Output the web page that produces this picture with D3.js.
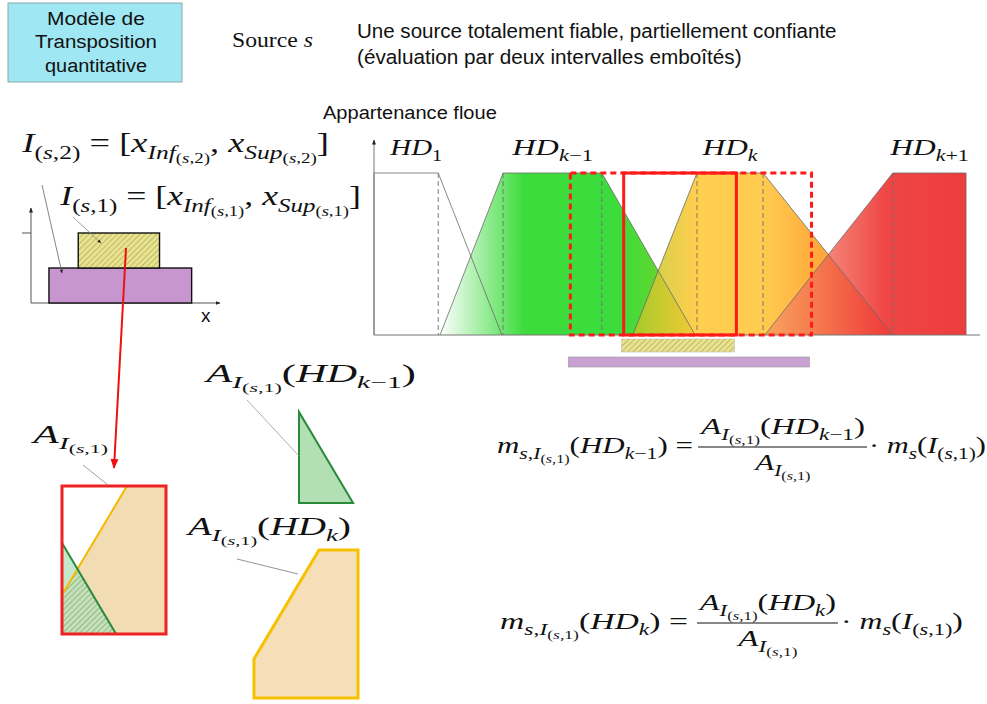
<!DOCTYPE html>
<html>
<head>
<meta charset="utf-8">
<script src="https://cdn.jsdelivr.net/npm/d3@7"></script>
<style>
body { margin: 0; background: #fff; }
text { white-space: pre; }
</style>
</head>
<body>
<script>
// fuzzy classes (support start, core start, core end, support end) on a 0-100 scale
var classNames = ["HD_{1}", "HD_{k−1}", "HD_{k}", "HD_{k+1}"];
var supStart  = [0, 10.9, 42.7, 64.5];
var coreStart = [0, 21.3, 53.3, 85.6];
var coreEnd   = [10.6, 37.6, 64.2, 97.7];
var supEnd    = [21.1, 53.0, 85.6, 97.7];
var membership = [0, 1];

// nested intervals given by the source
var interval1 = [41.2, 59.8];
var interval2 = [32.4, 72.2];

// small sketch of the two intervals
var small1 = [2.5, 6.8];
var small2 = [0.95, 8.5];

// zoomed areas, unit square of interval I(s,1)
var areaAll = [[0, 0], [0, 1], [1, 1], [1, 0]];
var areaKm1 = [[0, 0], [0, 0.615], [0.52, 0]];
var areaK   = [[0, 0], [0, 0.264], [0.625, 1], [1, 1], [1, 0]];

var W = 987, H = 704;
var svg = d3.select("body").append("svg").attr("width", W).attr("height", H);
var defs = svg.append("defs");
var serif = "'Liberation Serif', 'DejaVu Serif', serif";
var sans = "'Liberation Sans', Arial, sans-serif";

// arrow markers
function marker(id, color, size) {
  defs.append("marker").attr("id", id)
    .attr("viewBox", "0 0 10 10").attr("refX", 9).attr("refY", 5)
    .attr("markerWidth", size).attr("markerHeight", size)
    .attr("orient", "auto-start-reverse")
    .append("path").attr("d", "M0,1 L10,5 L0,9 Z").attr("fill", color);
}
marker("arrBlack", "#222", 5);
marker("arrRed", "#ee1111", 5);

// hatch patterns
var hp = defs.append("pattern").attr("id", "hatchY").attr("patternUnits", "userSpaceOnUse")
  .attr("width", 4).attr("height", 4).attr("patternTransform", "rotate(45)");
hp.append("rect").attr("width", 4).attr("height", 4).attr("fill", "#e9e38c");
hp.append("line").attr("x1", 0).attr("y1", 0).attr("x2", 0).attr("y2", 4).attr("stroke", "#8a8450").attr("stroke-width", 0.9);
var hg = defs.append("pattern").attr("id", "hatchG").attr("patternUnits", "userSpaceOnUse")
  .attr("width", 4).attr("height", 4).attr("patternTransform", "rotate(45)");
hg.append("line").attr("x1", 0).attr("y1", 0).attr("x2", 0).attr("y2", 4).attr("stroke", "#6f8f3a").attr("stroke-width", 1);

// stretch a text horizontally so it spans the wanted width
function fit(t, target) {
  var bb = t.node().getBBox();
  var anchor = t.attr("text-anchor");
  var ax = anchor === "middle" ? bb.x + bb.width / 2 : bb.x;
  var k = target / bb.width;
  t.attr("transform", "translate(" + ax + ",0) scale(" + k + ",1) translate(" + (-ax) + ",0)");
  return t;
}

// tiny TeX-like renderer: _{...} for subscripts
function parseTex(s) {
  var runs = [], lvl = 0;
  for (var i = 0; i < s.length; i++) {
    var c = s[i];
    if (c === "_" && s[i + 1] === "{") { lvl++; i++; continue; }
    if (c === "}") { lvl--; continue; }
    var it = /[A-Za-z]/.test(c);
    var last = runs[runs.length - 1];
    if (last && last.lvl === lvl && last.it === it) last.t += c;
    else runs.push({ t: c, lvl: lvl, it: it });
  }
  return runs;
}
function mathText(g, tex, px, py, size, width, anchor) {
  var t = g.append("text").attr("x", px).attr("y", py)
    .attr("font-family", serif).attr("font-size", size)
    .attr("text-anchor", anchor || "start").attr("fill", "#111");
  var sizes = [1, 0.7, 0.52], offs = [0, 0.25, 0.42];
  var cur = 0;
  parseTex(tex).forEach(function(r) {
    var off = offs[Math.min(r.lvl, 2)] * size;
    t.append("tspan").attr("dy", off - cur)
      .attr("font-size", size * sizes[Math.min(r.lvl, 2)])
      .attr("font-style", r.it ? "italic" : "normal")
      .text(r.t);
    cur = off;
  });
  if (width) fit(t, width);
  return t;
}
function plainText(g, s, px, py, size, width, anchor) {
  var t = g.append("text").attr("x", px).attr("y", py).attr("font-family", sans)
    .attr("font-size", size).attr("fill", "#111").attr("text-anchor", anchor || "start").text(s);
  if (width) fit(t, width);
  return t;
}

// ---------- title box ----------
svg.append("rect").attr("x", 8).attr("y", 3).attr("width", 174).attr("height", 79)
  .attr("fill", "#9fe7f3").attr("stroke", "#8aa").attr("stroke-width", 1);
var boxLines = ["Modèle de", "Transposition", "quantitative"];
var boxWidths = [98, 122, 102];
boxLines.forEach(function(s, i) {
  plainText(svg, s, 96, 25 + i * 23.5, 19, boxWidths[i], "middle");
});
var src = svg.append("text").attr("x", 232).attr("y", 47).attr("font-family", serif).attr("font-size", 21).attr("fill", "#111");
src.append("tspan").text("Source ");
src.append("tspan").attr("font-style", "italic").text("s");
fit(src, 81);

plainText(svg, "Une source totalement fiable, partiellement confiante", 357, 38, 19.5, 480);
plainText(svg, "(évaluation par deux intervalles emboîtés)", 357, 64, 19.5, 385);
plainText(svg, "Appartenance floue", 323, 119, 19, 174);

// ---------- main fuzzy chart ----------
var x = d3.scaleLinear().domain([0, 100]).range([374, 980]);
var y = d3.scaleLinear().domain(membership).range([335, 173]);
var line = d3.line().x(function(d) { return x(d[0]); }).y(function(d) { return y(d[1]); });

function trap(i) {
  return [[supStart[i], 0], [coreStart[i], 1], [coreEnd[i], 1], [supEnd[i], 0]];
}

// [offset, colour, opacity]
var gradStops = [
  [[0, "#ffffff", 1], [1, "#ffffff", 1]],
  [[0, "#ffffff", 1], [0.33, "#3ddc3d", 1], [0.72, "#3ddc3d", 1], [1, "#8ccf1c", 1]],
  [[0, "#b4c828", 0.85], [0.24, "#ffc93a", 0.9], [0.5, "#ffc63c", 0.9], [0.75, "#ff9a22", 0.9], [1, "#ff4a14", 0.9]],
  [[0, "#f58a66", 0.6], [0.6, "#ee3c3c", 0.95], [1, "#ee3c3c", 1]]
];
gradStops.forEach(function(stops, i) {
  var lg = defs.append("linearGradient").attr("id", "grad" + i)
    .attr("gradientUnits", "userSpaceOnUse")
    .attr("x1", x(supStart[i])).attr("x2", x(supEnd[i])).attr("y1", 0).attr("y2", 0);
  stops.forEach(function(s) {
    lg.append("stop").attr("offset", s[0]).attr("stop-color", s[1]).attr("stop-opacity", s[2]);
  });
});

var main = svg.append("g");
main.selectAll("path.fill").data(classNames).enter().append("path")
  .attr("class", "fill")
  .attr("d", function(d, i) { return line(trap(i)) + "Z"; })
  .attr("fill", function(d, i) { return "url(#grad" + i + ")"; });

main.selectAll("path.edge").data(classNames).enter().append("path")
  .attr("class", "edge")
  .attr("d", function(d, i) { return line(trap(i)); })
  .attr("fill", "none").attr("stroke", "#6a6a6a").attr("stroke-width", 0.8);

// dashed core limits
var coreLimits = [];
classNames.forEach(function(d, i) {
  if (coreStart[i] > supStart[i]) coreLimits.push(coreStart[i]);
  if (supEnd[i] > coreEnd[i]) coreLimits.push(coreEnd[i]);
});
main.selectAll("line.core").data(coreLimits).enter().append("line")
  .attr("x1", function(d) { return x(d); }).attr("x2", function(d) { return x(d); })
  .attr("y1", y(1)).attr("y2", y(0))
  .attr("stroke", "#6f6f6f").attr("stroke-width", 0.9).attr("stroke-dasharray", "5,3");

// axes
main.append("line").attr("x1", x(0)).attr("x2", x(100)).attr("y1", y(0)).attr("y2", y(0))
  .attr("stroke", "#777").attr("stroke-width", 1);
main.append("line").attr("x1", x(0)).attr("x2", x(0)).attr("y1", y(0)).attr("y2", y(1) - 33)
  .attr("stroke", "#777").attr("stroke-width", 1).attr("marker-end", "url(#arrBlack)");

// class labels
var labelWidths = [53, 82, 57, 80];
classNames.forEach(function(d, i) {
  mathText(main, d, x((coreStart[i] + coreEnd[i]) / 2) + (i === 0 ? 10 : 0), y(1) - 18, 24, labelWidths[i], "middle");
});

// interval boxes
main.append("rect").attr("x", x(interval2[0])).attr("y", y(1))
  .attr("width", x(interval2[1]) - x(interval2[0])).attr("height", y(0) - y(1))
  .attr("fill", "none").attr("stroke", "#ff1a1a").attr("stroke-width", 3).attr("stroke-dasharray", "6,4");
main.append("rect").attr("x", x(interval1[0])).attr("y", y(1))
  .attr("width", x(interval1[1]) - x(interval1[0])).attr("height", y(0) - y(1))
  .attr("fill", "none").attr("stroke", "#ff1a1a").attr("stroke-width", 3);

main.append("rect").attr("x", x(interval1[0]) - 2).attr("y", y(0) + 4)
  .attr("width", x(interval1[1]) - x(interval1[0])).attr("height", 13)
  .attr("fill", "url(#hatchY)").attr("stroke", "#bbb").attr("stroke-width", 0.6);
main.append("rect").attr("x", x(interval2[0]) - 2).attr("y", y(0) + 22)
  .attr("width", x(interval2[1]) - x(interval2[0])).attr("height", 10)
  .attr("fill", "#c9a0d2").attr("stroke", "#999").attr("stroke-width", 0.6);

// ---------- small interval sketch ----------
var sx = d3.scaleLinear().domain([0, 10]).range([31, 220]);
var sy = d3.scaleLinear().domain([0, 2]).range([303, 233]);
var sk = svg.append("g");
sk.append("line").attr("x1", sx(0)).attr("x2", sx(10)).attr("y1", sy(0)).attr("y2", sy(0))
  .attr("stroke", "#555").attr("stroke-width", 1).attr("marker-end", "url(#arrBlack)");
sk.append("line").attr("x1", sx(0)).attr("x2", sx(0)).attr("y1", sy(0)).attr("y2", sy(2) - 25)
  .attr("stroke", "#555").attr("stroke-width", 1).attr("marker-end", "url(#arrBlack)");
sk.append("line").attr("x1", sx(0) - 9).attr("x2", sx(0)).attr("y1", sy(2)).attr("y2", sy(2))
  .attr("stroke", "#555").attr("stroke-width", 1);
plainText(sk, "x", 201, 322, 19);
sk.append("rect").attr("x", sx(small2[0])).attr("y", sy(1)).attr("width", sx(small2[1]) - sx(small2[0]))
  .attr("height", sy(0) - sy(1)).attr("fill", "#c896cf").attr("stroke", "#111").attr("stroke-width", 1.4);
sk.append("rect").attr("x", sx(small1[0])).attr("y", sy(2)).attr("width", sx(small1[1]) - sx(small1[0]))
  .attr("height", sy(1) - sy(2)).attr("fill", "url(#hatchY)").attr("stroke", "#111").attr("stroke-width", 1.4);
sk.append("line").attr("x1", 42).attr("y1", 185).attr("x2", 62).attr("y2", 273)
  .attr("stroke", "#666").attr("stroke-width", 0.8).attr("marker-end", "url(#arrBlack)");
sk.append("line").attr("x1", 73).attr("y1", 217).attr("x2", 101).attr("y2", 243)
  .attr("stroke", "#888").attr("stroke-width", 0.8).attr("marker-end", "url(#arrBlack)");

mathText(svg, "I_{(s,2)} = [x_{Inf_{(s,2)}}, x_{Sup_{(s,2)}}]", 22, 152, 27, 308);
mathText(svg, "I_{(s,1)} = [x_{Inf_{(s,1)}}, x_{Sup_{(s,1)}}]", 60, 205, 27, 302);

// red arrow to the zoomed interval
svg.append("line").attr("x1", 126).attr("y1", 248).attr("x2", 114).attr("y2", 468)
  .attr("stroke", "#ee1111").attr("stroke-width", 2).attr("marker-end", "url(#arrRed)");

// ---------- zoomed areas ----------
var zx = d3.scaleLinear().domain([0, 1]).range([0, 104]);
var zy = d3.scaleLinear().domain([0, 1]).range([148, 0]);
var zline = d3.line().x(function(d) { return zx(d[0]); }).y(function(d) { return zy(d[1]); });

defs.append("clipPath").attr("id", "clipK").append("path").attr("d", zline(areaK) + "Z");

var z1 = svg.append("g").attr("transform", "translate(62,486)");
z1.append("path").attr("d", zline(areaAll) + "Z").attr("fill", "#fff");
z1.append("path").attr("d", zline(areaK) + "Z").attr("fill", "#f2dcb3");
z1.append("path").attr("d", zline(areaKm1) + "Z").attr("fill", "#b6e2c0").attr("fill-opacity", 0.8);
z1.append("path").attr("d", zline(areaKm1) + "Z").attr("fill", "url(#hatchG)").attr("clip-path", "url(#clipK)");
z1.append("path").attr("d", zline([areaK[1], areaK[2]])).attr("stroke", "#f5b800").attr("stroke-width", 2).attr("fill", "none");
z1.append("path").attr("d", zline([areaKm1[1], areaKm1[2]])).attr("stroke", "#2a8a3a").attr("stroke-width", 2).attr("fill", "none");
z1.append("path").attr("d", zline(areaAll) + "Z").attr("fill", "none").attr("stroke", "#ee2222").attr("stroke-width", 3);

var z2 = svg.append("g").attr("transform", "translate(299,355)");
z2.append("path").attr("d", zline(areaKm1) + "Z").attr("fill", "#b2dfb4").attr("stroke", "#2a8a3a").attr("stroke-width", 2);

var z3 = svg.append("g").attr("transform", "translate(254,550)");
z3.append("path").attr("d", zline(areaK) + "Z").attr("fill", "#f4dfb8").attr("stroke", "#f7c000").attr("stroke-width", 3);

// labels with leader lines
mathText(svg, "A_{I_{(s,1)}}", 32, 443, 25, 78);
svg.append("line").attr("x1", 83).attr("y1", 465).attr("x2", 108).attr("y2", 485).attr("stroke", "#888").attr("stroke-width", 0.8);
mathText(svg, "A_{I_{(s,1)}}(HD_{k−1})", 205, 382, 25, 213);
svg.append("line").attr("x1", 247).attr("y1", 400).attr("x2", 299).attr("y2", 456).attr("stroke", "#999").attr("stroke-width", 0.8);
mathText(svg, "A_{I_{(s,1)}}(HD_{k})", 187, 535, 25, 166);
svg.append("line").attr("x1", 237).attr("y1", 559).attr("x2", 298).attr("y2", 574).attr("stroke", "#777").attr("stroke-width", 0.8);

// ---------- formulas ----------
function formula(parts, widths, lx, base, bx1, bx2, rx) {
  mathText(svg, parts[0], lx, base, 23, widths[0]);
  mathText(svg, parts[1], (bx1 + bx2) / 2, base - 19, 23, widths[1], "middle");
  mathText(svg, parts[2], (bx1 + bx2) / 2, base + 17, 23, widths[2], "middle");
  svg.append("line").attr("x1", bx1).attr("x2", bx2).attr("y1", base - 6).attr("y2", base - 6)
    .attr("stroke", "#111").attr("stroke-width", 1);
  mathText(svg, parts[3], rx, base, 23, widths[3]);
}
formula(["m_{s,I_{(s,1)}}(HD_{k−1}) =", "A_{I_{(s,1)}}(HD_{k−1})", "A_{I_{(s,1)}}", "\u00B7 m_{s}(I_{(s,1)})"],
  [196, 167, 58, 117], 497, 453, 698, 867, 869);
formula(["m_{s,I_{(s,1)}}(HD_{k}) =", "A_{I_{(s,1)}}(HD_{k})", "A_{I_{(s,1)}}", "\u00B7 m_{s}(I_{(s,1)})"],
  [188, 139, 62, 122], 500, 629, 697, 838, 841);
</script>
</body>
</html>
